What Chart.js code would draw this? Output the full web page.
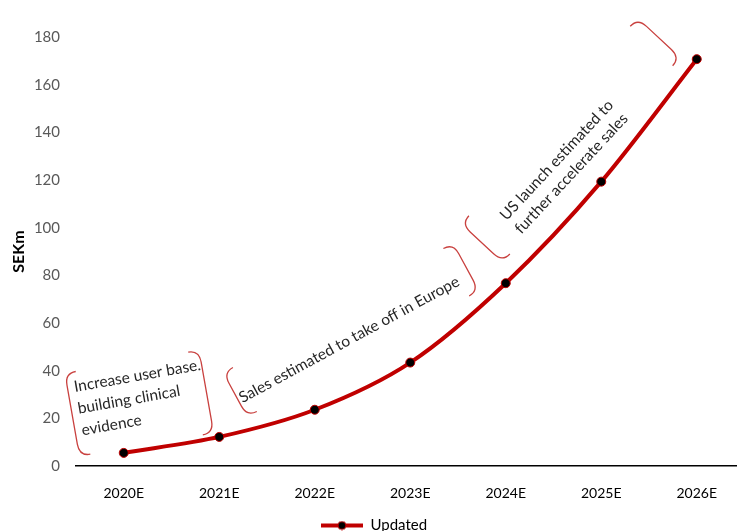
<!DOCTYPE html>
<html>
<head>
<meta charset="utf-8">
<script src="https://cdn.jsdelivr.net/npm/chart.js@4"></script>
<style>
  html, body { margin: 0; padding: 0; background: #fff; overflow: hidden; }
  #wrap { width: 750px; height: 531px; }
</style>
</head>
<body>
<div id="wrap"><canvas id="sales" width="750" height="531"></canvas></div>
<script>
// data
const years = ["2020E", "2021E", "2022E", "2023E", "2024E", "2025E", "2026E"];
const updated = [5.5, 12.2, 23.6, 43.4, 76.7, 119.3, 170.7];
const yTicks = [0, 20, 40, 60, 80, 100, 120, 140, 160, 180];

// text boxes with brackets, placed in category index / SEKm units
const notes = [
    { lines: ["Increase user base.", "building clinical", "evidence"], at: [-0.48, 24.0], align: 'left', angle: -10,
      brackets: [{ at: [-0.54, 21.5], len: 84, side: 'l' }, { at: [0.865, 31.2], len: 84, side: 'r' }] },
    { lines: ["Sales estimated to take off in Europe"], at: [2.36, 53.0], align: 'center', angle: -28.5,
      brackets: [{ at: [1.167, 29.9], len: 50, side: 'l' }, { at: [3.583, 83.5], len: 54, side: 'r' }] },
    { lines: ["US launch estimated to", "further accelerate sales"], at: [4.61, 125.5], align: 'center', angle: -47,
      brackets: [{ at: [3.75, 93.6], len: 56, side: 'l' }, { at: [5.604, 179.6], len: 58, side: 'r' }] }
];

const red = "#C00000";
const font = "Lato, 'Noto Sans', sans-serif";

// legend symbol: line with marker
const sym = document.createElement('canvas');
sym.width = 42; sym.height = 10;
const sc = sym.getContext('2d');
sc.strokeStyle = red; sc.lineWidth = 4;
sc.beginPath(); sc.moveTo(0, 5); sc.lineTo(42, 5); sc.stroke();
sc.fillStyle = '#000'; sc.strokeStyle = red; sc.lineWidth = 1;
sc.beginPath(); sc.arc(21, 5, 4, 0, Math.PI * 2); sc.fill(); sc.stroke();

function bracket(ctx, L, side) {
    const h = side === 'l' ? 11 : -11, r = 12;
    ctx.beginPath();
    ctx.moveTo(h, -L / 2);
    ctx.quadraticCurveTo(0, -L / 2, 0, -L / 2 + r);
    ctx.lineTo(0, L / 2 - r);
    ctx.quadraticCurveTo(0, L / 2, h, L / 2);
    ctx.stroke();
}

const notesPlugin = {
    id: 'notes',
    afterDatasetsDraw(chart) {
        const { ctx, scales: { x, y } } = chart;
        notes.forEach(n => {
            const rad = n.angle * Math.PI / 180;
            n.brackets.forEach(b => {
                ctx.save();
                ctx.translate(x.getPixelForValue(b.at[0]), y.getPixelForValue(b.at[1]));
                ctx.rotate(rad);
                ctx.strokeStyle = '#C9413F';
                ctx.lineWidth = 1.3;
                bracket(ctx, b.len, b.side);
                ctx.restore();
            });
            ctx.save();
            ctx.translate(x.getPixelForValue(n.at[0]), y.getPixelForValue(n.at[1]));
            ctx.rotate(rad);
            ctx.fillStyle = '#262626';
            ctx.font = "15.5px " + font;
            ctx.textAlign = n.align;
            ctx.textBaseline = 'middle';
            const lh = n.lines.length === 3 ? 22 : 20;
            n.lines.forEach((t, k) => {
                ctx.fillText(t, 0, (k - (n.lines.length - 1) / 2) * lh);
            });
            ctx.restore();
        });
    }
};

new Chart(document.getElementById("sales"), {
    type: 'line',
    data: {
        labels: years,
        datasets: [{
            label: "Updated",
            data: updated,
            borderColor: red,
            backgroundColor: red,
            borderWidth: 4,
            tension: 0.3,
            pointRadius: 4.5,
            pointBackgroundColor: '#000',
            pointBorderColor: red,
            pointBorderWidth: 1
        }]
    },
    options: {
        responsive: false,
        animation: false,
        layout: { padding: { top: 37, right: 2, left: 0, bottom: -12 } },
        scales: {
            x: {
                offset: true,
                grid: { display: false, drawTicks: false },
                border: { display: true, color: '#000', width: 1.5 },
                ticks: { color: '#000', font: { family: font, size: 14 }, padding: 19, maxRotation: 0 },
                afterFit: s => { s.height = 51; }
            },
            y: {
                min: 0,
                max: 180,
                grid: { display: false, drawTicks: false },
                border: { display: false },
                afterBuildTicks: s => { s.ticks = yTicks.map(v => ({ value: v })); },
                ticks: { color: '#595959', font: { family: font, size: 15 }, padding: 16 },
                title: { display: true, text: 'SEKm', color: '#000', font: { family: font, size: 16, weight: 'bold' }, padding: { top: 9, bottom: 0 } },
                afterFit: s => { s.width = 76; }
            }
        },
        plugins: {
            legend: {
                position: 'bottom',
                labels: {
                    usePointStyle: true,
                    pointStyleWidth: 42,
                    padding: 1,
                    color: '#595959',
                    font: { family: font, size: 15 },
                    generateLabels: chart => [{
                        text: "Updated",
                        pointStyle: sym,
                        fillStyle: red,
                        strokeStyle: red,
                        lineWidth: 0,
                        datasetIndex: 0
                    }]
                }
            },
            tooltip: { enabled: false }
        }
    },
    plugins: [notesPlugin]
});
</script>
</body>
</html>
